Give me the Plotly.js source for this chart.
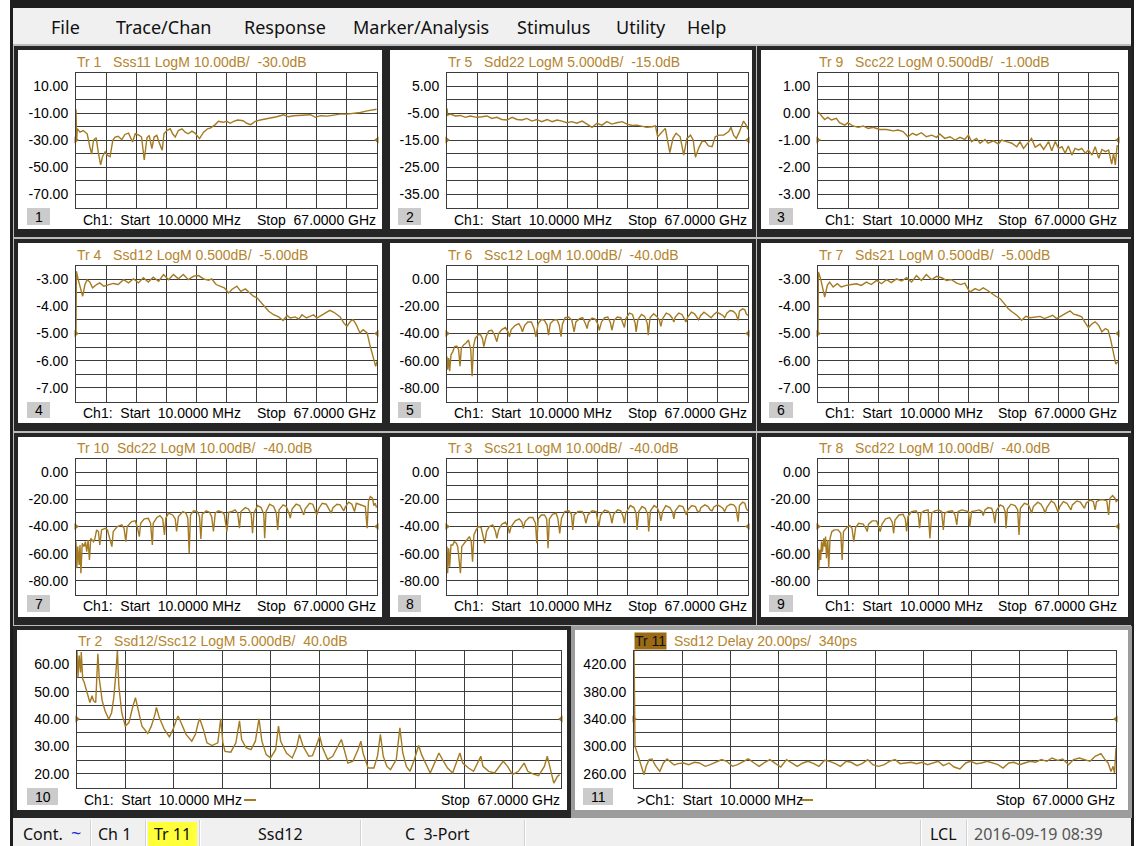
<!DOCTYPE html>
<html><head><meta charset="utf-8">
<script src="https://cdn.plot.ly/plotly-3.0.1.min.js"></script>
<style>html,body{margin:0;padding:0;background:#fff;overflow:hidden}#chart{width:1136px;height:846px}</style>
</head><body><div id="chart"></div>
<script>
// ---------------- DATA ----------------
const START_GHZ = 0.01, STOP_GHZ = 67;

// Tr 1  Sss11 LogM (dB)
const tr1_freq = [0.01,0.15,0.3,0.9,1.6,2.5,3.1,3.5,3.9,4.5,5.0,5.5,5.9,6.5,7.0,7.6,8.2,8.7,9.4,10.2,10.9,11.7,12.6,13.2,14.1,14.6,15.2,15.8,16.3,16.9,17.4,18.0,18.6,19.2,19.6,20.2,21.0,21.5,22.1,22.8,23.6,24.3,25.0,25.8,26.5,27.5,28.4,29.3,30.0,31.0,31.7,32.7,33.6,34.3,35.1,36.0,37.2,38.0,38.9,39.9,41.0,42.1,43.2,44.7,46.2,47.3,48.4,49.6,51.0,52.2,53.3,54.4,55.9,57.4,58.8,60.3,61.8,63.3,64.8,65.9,66.9];
const tr1_db = [-7.2,-30.2,-21.7,-24.2,-23.0,-25.4,-35.1,-40.4,-30.2,-28.3,-39.9,-48.4,-42.4,-38.7,-41.2,-42.4,-30.2,-27.8,-27.3,-29.8,-25.9,-24.9,-31.5,-25.4,-26.6,-27.8,-44.8,-28.3,-26.6,-36.3,-27.8,-26.6,-32.7,-37.5,-25.4,-23.0,-21.7,-25.4,-27.8,-23.0,-21.7,-24.2,-25.4,-23.4,-24.9,-29.0,-24.2,-21.7,-21.0,-18.6,-16.2,-16.9,-16.2,-17.6,-16.2,-15.2,-15.7,-17.6,-18.6,-16.2,-15.2,-14.5,-13.7,-12.8,-11.3,-12.8,-12.0,-11.8,-12.0,-11.3,-13.2,-12.0,-12.3,-11.3,-10.8,-10.8,-10.3,-9.6,-8.4,-7.7,-7.2];

// Tr 5  Sdd22 LogM (dB)
const tr5_freq = [0.01,0.15,0.7,1.9,3.0,4.1,5.2,6.7,7.8,8.9,10.0,11.1,12.2,13.4,14.5,15.6,16.7,17.8,18.9,20.0,21.1,22.3,23.4,24.5,25.6,26.7,27.8,28.9,30.1,31.2,32.3,33.4,34.5,35.6,36.7,37.8,39.0,40.1,41.2,42.3,43.4,44.5,45.6,46.4,46.9,47.9,48.6,49.6,50.3,51.0,51.9,52.7,53.4,54.2,54.8,55.3,56.0,56.8,57.5,58.2,59.0,59.7,60.5,61.6,62.7,63.2,63.8,64.4,65.1,66.0,66.6,67.0];
const tr5_db = [-3.3,-5.8,-5.4,-6.1,-5.9,-6.6,-6.1,-6.6,-6.4,-6.1,-7.0,-6.6,-7.4,-7.6,-6.6,-7.4,-7.6,-7.0,-8.0,-7.4,-8.2,-7.4,-8.2,-7.6,-8.0,-8.6,-8.2,-8.8,-8.0,-9.1,-10.3,-8.8,-9.5,-8.2,-9.1,-8.6,-8.2,-9.1,-9.6,-9.5,-9.8,-10.3,-10.1,-9.8,-13.8,-11.9,-10.7,-19.7,-14.4,-12.5,-13.8,-20.6,-14.4,-13.2,-15.0,-21.4,-18.1,-15.4,-15.6,-17.2,-17.5,-13.8,-13.2,-13.2,-11.9,-10.3,-13.2,-14.4,-11.9,-8.0,-9.5,-11.1];

// Tr 9  Scc22 LogM (dB)
const tr9_freq = [0.01,0.7,1.5,2.2,3.0,4.1,4.8,6.0,6.7,7.8,9.0,10.1,11.2,12.3,13.8,15.3,16.8,17.9,19.0,20.1,21.1,22.0,23.1,24.2,25.4,26.5,27.2,28.3,29.5,30.6,31.7,32.8,33.6,34.3,35.4,36.2,37.3,38.0,39.2,40.3,41.0,42.1,43.3,44.4,45.1,45.9,46.8,47.7,48.5,49.6,50.4,51.5,52.2,53.0,53.7,54.5,55.2,55.9,56.7,57.4,58.2,58.9,59.7,60.4,61.2,61.9,62.7,63.4,64.2,64.9,65.6,66.0,66.4,66.8,67.0];
const tr9_db = [0.05,-0.08,-0.24,-0.16,-0.26,-0.20,-0.36,-0.45,-0.36,-0.48,-0.53,-0.48,-0.57,-0.53,-0.61,-0.61,-0.66,-0.63,-0.69,-0.88,-0.75,-0.82,-0.73,-0.88,-0.82,-0.90,-0.78,-0.94,-0.88,-1.00,-0.90,-0.98,-0.82,-1.06,-0.94,-1.12,-0.98,-1.12,-1.03,-1.15,-1.00,-1.06,-1.12,-1.25,-1.06,-1.31,-1.12,-0.94,-1.27,-1.15,-1.35,-1.06,-1.40,-1.06,-1.31,-1.25,-1.49,-1.22,-1.56,-1.31,-1.37,-1.31,-1.49,-1.37,-1.56,-1.25,-1.68,-1.35,-1.43,-1.37,-1.89,-1.49,-1.92,-1.22,-1.22];

// Tr 4  Ssd12 LogM (dB)
const tr4_freq = [0.01,0.1,0.5,1.0,1.5,2.0,2.5,3.1,3.7,4.6,5.3,6.2,7.2,8.3,9.4,10.6,11.7,12.8,13.9,15.0,16.1,17.2,18.4,19.5,20.6,21.7,22.8,23.9,25.0,26.2,27.3,28.4,29.5,30.2,31.2,32.1,33.0,34.0,34.7,35.8,36.7,37.7,38.6,39.5,40.3,41.0,41.9,42.9,44.0,45.1,46.1,47.0,47.7,48.8,49.6,50.3,51.3,52.2,52.9,53.6,54.5,55.5,56.5,57.4,58.3,58.8,59.6,60.3,61.1,61.7,62.4,63.2,63.9,64.8,65.4,65.9,66.4,66.7,67.0];
const tr4_db = [-5.0,-2.71,-3.02,-3.38,-3.63,-3.20,-3.02,-3.11,-3.32,-3.20,-3.14,-3.26,-3.20,-3.16,-3.20,-3.02,-3.14,-2.99,-3.14,-2.95,-3.11,-2.93,-3.08,-2.83,-3.02,-2.83,-2.99,-2.83,-3.02,-2.89,-2.87,-2.99,-3.04,-2.99,-3.20,-3.26,-3.32,-3.51,-3.38,-3.26,-3.45,-3.36,-3.48,-3.63,-3.69,-3.82,-4.00,-4.18,-4.31,-4.39,-4.52,-4.34,-4.43,-4.39,-4.47,-4.31,-4.43,-4.37,-4.31,-4.43,-4.34,-4.25,-4.15,-4.22,-4.31,-4.39,-4.61,-4.74,-4.55,-4.49,-4.68,-4.98,-4.86,-4.98,-5.41,-5.72,-6.09,-6.21,-6.03];

// Tr 6  Ssc12 LogM (dB)
const tr6_freq = [0.01,0.15,0.4,0.6,0.9,1.3,1.7,2.2,2.6,2.9,3.2,3.7,4.2,4.8,5.3,5.6,5.9,6.3,6.9,7.4,7.9,8.2,8.7,9.3,10.0,10.6,11.1,11.5,12.2,13.0,13.6,13.9,14.3,15.2,16.0,16.5,16.8,17.3,18.0,18.8,19.4,19.8,20.3,21.0,21.7,22.3,22.6,23.0,23.7,24.5,25.0,25.4,25.7,26.3,27.1,27.8,28.3,28.7,29.5,30.2,30.8,31.2,31.5,32.3,33.0,33.6,33.9,34.4,35.1,35.8,36.4,36.7,37.2,37.9,38.7,39.1,39.5,39.8,40.6,41.3,41.9,42.1,42.5,43.3,44.0,44.6,44.8,45.2,46.0,46.7,47.3,47.6,48.0,48.8,49.5,50.1,50.5,50.8,51.6,52.3,52.8,53.2,53.6,54.4,55.1,55.7,56.0,56.5,57.2,57.9,58.4,58.8,59.4,60.1,60.8,61.4,61.8,62.3,63.0,63.7,64.3,64.8,65.1,65.8,66.3,66.6,67.0];
const tr6_db = [-56.9,-66.6,-58.1,-67.8,-55.7,-53.3,-49.7,-49.2,-52.1,-64.1,-50.9,-48.4,-47.2,-44.8,-52.1,-71.4,-49.7,-43.6,-41.2,-40.5,-43.6,-49.7,-42.4,-38.1,-37.6,-41.2,-46.0,-40.0,-37.1,-35.6,-38.8,-42.4,-37.1,-34.0,-32.7,-35.6,-38.8,-34.0,-31.5,-31.5,-36.4,-42.4,-32.7,-29.8,-30.3,-34.0,-41.2,-32.7,-30.3,-29.8,-34.0,-42.4,-33.2,-28.4,-27.9,-30.3,-38.8,-31.5,-29.1,-28.4,-32.7,-36.4,-31.5,-28.6,-29.4,-33.2,-37.6,-31.5,-28.4,-27.9,-32.3,-37.6,-30.3,-27.9,-28.4,-32.3,-35.6,-29.1,-25.0,-26.0,-32.7,-38.8,-29.8,-26.0,-27.4,-32.7,-41.2,-28.4,-25.5,-27.4,-30.3,-34.7,-29.1,-25.0,-26.0,-28.4,-31.5,-27.9,-25.0,-26.0,-29.8,-31.5,-27.9,-24.3,-25.5,-28.4,-29.8,-26.7,-24.3,-26.0,-27.4,-28.4,-26.0,-24.3,-25.5,-26.7,-28.4,-25.0,-23.1,-23.6,-25.5,-30.3,-23.6,-21.9,-22.6,-25.5,-26.7];

// Tr 7  Sds21 LogM (dB)
const tr7_freq = [0.01,0.1,0.6,1.1,1.5,2.1,2.6,3.4,4.3,5.2,6.3,7.5,8.6,9.7,10.8,11.9,13.1,14.2,15.3,16.4,17.5,18.7,19.8,20.9,22.0,23.1,24.2,25.4,26.5,27.6,28.7,29.8,31.0,31.9,32.8,33.9,35.1,36.0,36.9,37.9,38.8,39.7,40.7,41.6,42.5,43.4,44.4,45.5,46.4,47.4,48.5,49.6,50.6,51.5,52.4,53.3,54.3,55.2,56.3,57.1,58.0,58.9,59.7,60.4,61.2,61.9,62.7,63.4,64.2,64.8,65.4,66.0,66.5,67.0];
const tr7_db = [-5.0,-2.74,-2.99,-3.42,-3.66,-3.23,-3.11,-3.29,-3.17,-3.29,-3.23,-3.20,-3.17,-3.23,-3.11,-3.20,-3.05,-3.17,-3.02,-3.13,-2.99,-3.07,-2.95,-3.11,-2.87,-3.05,-2.83,-3.02,-2.90,-2.95,-3.05,-3.02,-3.15,-3.20,-3.15,-3.48,-3.35,-3.42,-3.32,-3.42,-3.54,-3.63,-3.72,-3.90,-4.09,-4.21,-4.33,-4.51,-4.37,-4.42,-4.39,-4.37,-4.45,-4.39,-4.33,-4.45,-4.37,-4.27,-4.17,-4.29,-4.33,-4.39,-4.61,-4.78,-4.64,-4.57,-4.70,-4.94,-4.82,-4.88,-5.25,-5.73,-6.12,-6.04];

// Tr 10 Sdc22 LogM (dB)
const tr10_freq = [0.01,0.2,0.4,0.7,0.9,1.1,1.4,1.8,2.1,2.4,2.7,3.0,3.3,3.9,4.2,4.6,5.0,5.3,5.7,6.5,7.0,8.0,8.3,9.2,10.2,10.7,11.1,11.4,12.4,13.2,13.7,14.1,14.4,15.2,16.1,16.6,17.0,17.2,18.0,18.7,19.3,19.7,20.0,20.6,21.5,22.1,22.4,22.8,23.8,24.5,24.9,25.2,25.5,26.2,27.0,27.5,27.8,28.1,29.0,29.7,30.2,30.6,31.0,31.7,32.5,33.0,33.6,34.0,34.7,35.4,36.0,36.4,36.7,37.7,38.4,39.0,39.3,39.6,40.4,41.2,41.8,42.0,42.3,43.1,44.0,44.6,44.9,45.2,46.1,46.8,47.4,47.7,48.1,49.0,49.8,50.3,50.7,51.0,52.0,52.7,53.3,53.6,54.0,54.8,55.7,56.2,56.8,57.2,58.1,58.8,59.6,60.0,60.7,61.4,62.0,62.4,63.3,64.4,64.8,65.1,65.5,66.0,66.3,66.6,66.9];
const tr10_db = [-51.1,-70.7,-54.8,-68.3,-53.6,-74.4,-52.3,-54.8,-51.1,-58.5,-49.9,-64.6,-48.7,-51.1,-49.1,-42.5,-43.7,-53.6,-42.5,-41.3,-42.5,-54.8,-43.7,-40.1,-38.8,-41.3,-51.1,-40.1,-36.4,-35.9,-40.8,-47.4,-37.6,-34.4,-33.9,-37.6,-53.6,-37.6,-33.4,-32.0,-34.4,-46.2,-33.9,-30.2,-31.5,-34.4,-43.7,-32.7,-29.0,-30.2,-33.9,-59.7,-31.5,-28.5,-29.0,-32.7,-49.1,-31.0,-28.5,-29.5,-32.7,-43.7,-30.2,-28.5,-29.5,-31.0,-43.7,-29.5,-29.0,-27.8,-30.2,-41.3,-29.0,-26.1,-27.1,-31.0,-45.0,-30.2,-24.6,-26.1,-31.0,-48.7,-29.0,-23.6,-25.3,-30.2,-42.5,-27.8,-24.1,-25.3,-30.2,-33.9,-27.1,-23.6,-24.6,-29.0,-31.5,-27.1,-22.9,-23.6,-28.5,-31.5,-27.1,-22.9,-23.6,-27.1,-30.2,-26.1,-23.6,-24.1,-28.5,-25.3,-22.1,-23.6,-29.0,-22.9,-24.1,-25.3,-41.3,-21.7,-18.0,-19.2,-24.6,-22.9,-26.1];

// Tr 3  Scs21 LogM (dB)
const tr3_freq = [0.01,0.15,0.4,0.6,0.9,1.3,1.6,2.1,2.4,2.7,3.0,3.3,3.8,4.4,5.0,5.4,5.7,6.0,6.5,7.0,7.6,8.1,8.4,8.8,9.4,10.2,10.8,11.1,11.5,12.2,13.0,13.6,13.9,14.3,15.2,16.1,16.7,17.0,17.4,18.3,19.1,19.7,20.0,20.3,21.0,21.7,22.2,22.5,22.8,23.5,24.3,24.7,25.1,25.5,26.2,27.1,27.7,28.0,28.3,29.2,30.1,30.6,30.9,31.4,32.3,33.2,33.5,33.8,34.2,35.1,36.0,36.4,36.7,37.1,38.0,38.7,39.2,39.5,39.8,40.8,41.6,42.1,42.3,42.7,43.4,44.1,44.7,44.9,45.3,46.1,46.8,47.3,47.6,48.0,48.7,49.6,50.2,50.5,50.8,51.7,52.5,52.9,53.3,53.6,54.5,55.3,55.7,56.2,56.5,57.4,58.1,58.6,59.0,59.4,60.2,60.9,61.4,61.8,62.3,63.1,63.8,64.3,64.8,65.1,65.8,66.3,66.6,67.0];
const tr3_db = [-54.8,-74.4,-56.0,-69.5,-53.6,-53.6,-51.1,-52.3,-54.8,-68.3,-74.4,-54.8,-52.3,-49.9,-47.4,-51.1,-65.8,-46.2,-42.5,-40.1,-40.8,-48.7,-52.3,-43.7,-40.1,-38.8,-43.7,-48.7,-42.5,-38.3,-36.9,-40.1,-45.0,-40.1,-35.9,-34.4,-36.9,-41.3,-36.4,-33.4,-33.4,-37.6,-52.3,-34.4,-31.5,-31.5,-34.4,-56.0,-34.4,-31.0,-30.2,-34.4,-45.0,-33.9,-29.0,-28.5,-31.0,-42.5,-31.5,-29.0,-29.0,-32.0,-37.6,-31.5,-28.5,-29.0,-33.4,-40.1,-31.5,-28.0,-29.0,-32.0,-37.6,-31.0,-27.8,-28.5,-32.7,-37.6,-30.2,-24.6,-26.1,-30.2,-42.5,-29.0,-25.3,-26.6,-31.0,-43.7,-28.5,-24.6,-26.1,-30.2,-35.9,-29.0,-24.6,-26.1,-29.5,-34.4,-28.5,-24.6,-25.3,-29.0,-31.5,-27.8,-24.6,-25.3,-28.5,-29.5,-26.1,-24.1,-25.3,-27.8,-28.5,-25.6,-24.1,-25.3,-26.6,-29.0,-25.3,-23.6,-24.1,-26.1,-36.4,-24.6,-22.1,-22.9,-26.6,-28.5];

// Tr 8  Scd22 LogM (dB)
const tr8_freq = [0.01,0.15,0.4,0.6,0.8,1.0,1.3,1.5,1.7,1.9,2.2,2.4,2.7,3.1,3.7,4.5,5.1,5.4,5.7,6.3,7.1,7.6,8.0,8.4,9.1,10.1,10.7,11.0,11.3,12.1,13.1,13.6,13.9,14.3,15.1,16.0,16.6,16.9,17.2,18.1,19.0,19.5,19.8,20.1,20.9,21.9,22.4,22.7,23.0,23.7,24.6,25.0,25.4,26.1,27.0,27.6,28.0,28.3,29.1,30.0,30.6,31.0,31.3,32.1,33.0,33.6,33.9,34.3,35.1,36.0,36.6,36.9,37.3,38.0,38.8,39.2,39.5,39.8,40.7,41.4,41.8,42.0,42.3,43.1,44.0,44.6,44.9,45.2,46.1,47.0,47.4,47.7,48.1,49.1,49.8,50.4,50.7,51.1,52.1,52.8,53.3,53.6,54.0,54.8,55.6,56.1,56.5,56.8,57.8,58.6,59.1,59.5,59.9,60.8,61.5,61.9,62.2,63.0,63.8,64.5,64.9,65.2,65.8,66.3,66.6,67.0];
const tr8_db = [-56.0,-72.0,-57.2,-64.6,-51.1,-58.5,-48.7,-54.8,-47.4,-63.4,-49.9,-70.7,-48.7,-43.7,-42.5,-42.5,-45.0,-64.6,-43.7,-41.3,-39.3,-41.3,-51.1,-40.8,-37.6,-38.3,-41.3,-43.7,-38.3,-35.9,-35.9,-40.1,-43.7,-38.3,-34.4,-33.4,-36.9,-45.0,-35.2,-31.5,-31.0,-34.4,-43.7,-32.7,-29.0,-28.5,-31.0,-41.3,-30.2,-28.5,-27.8,-48.7,-30.2,-28.5,-27.8,-29.0,-42.5,-30.2,-29.0,-28.5,-31.5,-38.8,-29.0,-27.8,-28.5,-29.0,-40.1,-29.0,-28.5,-27.8,-29.0,-32.0,-27.8,-26.1,-26.6,-31.0,-37.6,-28.5,-24.1,-25.3,-29.0,-41.3,-27.1,-23.6,-24.6,-27.8,-46.2,-26.6,-22.9,-24.1,-27.1,-30.2,-25.3,-22.1,-23.6,-27.1,-30.2,-26.1,-21.2,-22.9,-26.6,-29.5,-25.3,-21.7,-22.9,-26.1,-27.8,-24.1,-21.2,-22.1,-24.6,-26.6,-22.9,-20.4,-21.7,-27.8,-21.7,-20.4,-20.4,-21.2,-31.5,-19.2,-17.2,-19.2,-21.7,-20.4];

// Tr 2  Ssd12/Ssc12 LogM (dB)
const tr2_freq = [0.01,0.15,0.3,0.5,0.6,0.8,1.0,1.3,1.5,1.8,2.1,2.3,2.6,2.8,2.9,3.1,3.5,3.9,4.4,4.8,5.1,5.4,5.6,5.8,6.2,6.7,7.2,7.7,8.1,8.3,9.0,9.8,10.3,10.8,11.0,11.4,12.1,12.8,13.3,13.8,14.0,14.4,15.1,15.9,16.4,16.8,17.0,17.5,18.0,18.7,19.5,19.9,20.2,20.5,21.3,22.0,22.5,22.8,23.4,24.1,24.7,25.2,25.6,26.2,26.8,27.5,27.9,28.2,29.0,29.8,30.4,30.8,31.3,32.1,32.6,33.1,33.6,34.0,34.7,35.4,36.0,36.6,37.0,37.5,38.2,38.9,39.3,39.6,40.3,41.1,41.6,42.0,42.4,42.9,43.4,44.2,44.7,45.1,45.6,46.1,46.7,47.3,47.7,48.3,48.9,49.5,50.1,50.6,51.3,52.0,52.6,53.0,53.4,54.2,54.9,55.5,55.9,56.2,57.0,57.8,58.5,59.0,59.6,60.3,61.1,61.9,62.4,63.1,63.9,64.7,65.1,65.4,66.0,66.5,66.8];
const tr2_db = [65.0,55.2,63.2,57.0,64.4,54.6,53.4,50.9,49.1,46.0,48.5,46.6,46.0,59.5,63.8,54.6,46.6,42.9,39.9,42.3,47.8,57.0,65.0,52.1,42.3,37.4,38.7,44.2,47.8,45.4,37.4,34.7,37.4,41.7,44.2,40.5,36.2,33.5,36.2,39.9,41.1,38.7,34.4,31.9,34.4,38.7,40.1,36.2,31.3,30.3,31.3,40.1,31.3,28.2,27.9,31.3,39.3,32.5,29.5,28.8,31.9,40.1,31.9,27.0,25.8,28.8,37.4,31.9,27.6,25.8,29.5,34.4,30.1,26.4,26.6,30.1,33.7,29.5,25.2,26.4,29.5,32.5,28.8,23.9,24.6,28.8,31.9,27.6,22.1,22.1,26.4,34.4,26.4,22.7,21.5,25.2,36.8,27.6,22.7,20.9,25.2,30.3,27.0,23.9,20.3,23.9,27.6,25.2,22.1,20.3,25.2,27.6,23.9,22.1,20.9,23.9,26.4,22.7,20.9,20.3,22.7,24.6,22.7,19.7,20.9,23.9,20.9,20.0,19.3,22.7,26.4,22.7,16.6,19.0,19.7];

// Tr 11 Ssd12 Delay (ps)
const tr11_freq = [0.01,0.15,0.6,1.0,1.4,1.7,2.1,2.5,3.0,3.6,4.1,4.6,5.1,5.6,6.1,6.9,7.6,8.4,9.1,9.9,10.6,11.4,12.2,12.9,13.7,14.4,15.2,15.9,16.7,17.4,18.2,18.9,19.7,20.4,21.2,21.9,22.7,23.5,24.2,25.0,25.7,26.5,27.2,28.0,28.7,29.5,30.2,31.0,31.7,32.5,33.2,34.0,34.8,35.5,36.3,37.0,37.8,38.5,39.3,40.0,40.8,41.5,42.3,43.0,43.8,44.5,45.3,46.1,46.8,47.6,48.3,49.1,49.8,50.6,51.3,52.1,52.8,53.6,54.3,55.1,55.8,56.6,57.4,58.1,58.9,59.6,60.4,61.1,61.9,62.6,63.4,64.1,64.9,65.4,65.9,66.3,66.6,66.8,67.0];
const tr11_ps = [450,300.3,285.6,270.9,258.6,270.9,280.7,281.7,271.9,263.5,275.8,281.7,276.8,272.8,274.8,275.8,273.3,276.8,275.8,270.9,273.3,276.8,280.7,278.2,270.9,273.3,278.2,281.7,275.8,270.9,276.8,280.7,274.8,269.9,280.7,275.8,270.9,275.8,278.2,274.8,270.9,279.7,278.2,274.8,270.9,278.2,276.8,271.9,274.8,280.7,273.3,270.9,273.3,278.2,280.7,274.8,275.8,276.8,274.8,276.8,273.3,275.8,278.2,271.9,275.8,269.9,267.0,275.8,278.2,274.8,275.8,278.2,275.8,273.3,268.4,275.8,276.8,273.3,275.8,278.2,276.8,280.7,278.2,283.1,279.7,281.7,273.3,280.7,283.1,280.7,278.2,285.6,289.5,281.7,275.8,263.5,270.9,261.1,297.8];

// scale settings (reference value, per-division)
const refLevels = [-30, -15, -1, -5, -40, -5, -40, -40, -40, 40, 340];
const perDiv    = [10, 5, 0.5, 0.5, 10, 0.5, 10, 10, 10, 5, 20];
const trTitles = [
  'Tr 1\u00a0\u00a0\u00a0Sss11 LogM 10.00dB/\u00a0\u00a0-30.0dB',
  'Tr 5\u00a0\u00a0\u00a0Sdd22 LogM 5.000dB/\u00a0\u00a0-15.0dB',
  'Tr 9\u00a0\u00a0\u00a0Scc22 LogM 0.500dB/\u00a0\u00a0-1.00dB',
  'Tr 4\u00a0\u00a0\u00a0Ssd12 LogM 0.500dB/\u00a0\u00a0-5.00dB',
  'Tr 6\u00a0\u00a0\u00a0Ssc12 LogM 10.00dB/\u00a0\u00a0-40.0dB',
  'Tr 7\u00a0\u00a0\u00a0Sds21 LogM 0.500dB/\u00a0\u00a0-5.00dB',
  'Tr 10\u00a0\u00a0Sdc22 LogM 10.00dB/\u00a0\u00a0-40.0dB',
  'Tr 3\u00a0\u00a0\u00a0Scs21 LogM 10.00dB/\u00a0\u00a0-40.0dB',
  'Tr 8\u00a0\u00a0\u00a0Scd22 LogM 10.00dB/\u00a0\u00a0-40.0dB',
  'Tr 2\u00a0\u00a0\u00a0Ssd12/Ssc12 LogM 5.000dB/\u00a0\u00a040.0dB',
  'Ssd12 Delay 20.00ps/\u00a0\u00a0340ps'
];
const windowNumbers = ['1','2','3','4','5','6','7','8','9','10','11'];
const menuItems = ['File','Trace/Chan','Response','Marker/Analysis','Stimulus','Utility','Help'];

// ---------------- LAYOUT GEOMETRY (pixels) ----------------
const W = 1136, H = 846;
const TRACE_C = '#a47a22', TITLE_C = '#b5842e';
const FONT = '"Liberation Sans", Arial, sans-serif';
const UIFONT = '"Noto Sans", "Open Sans", sans-serif';

const seriesX = [tr1_freq, tr5_freq, tr9_freq, tr4_freq, tr6_freq, tr7_freq, tr10_freq, tr3_freq, tr8_freq, tr2_freq, tr11_freq];
const seriesY = [tr1_db, tr5_db, tr9_db, tr4_db, tr6_db, tr7_db, tr10_db, tr3_db, tr8_db, tr2_db, tr11_ps];

const colX = [[76,377],[447,748],[818,1118]];
const rowY = [[72.5,207.5],[265.5,401.5],[458.5,594.5]];
const colWhite = [[18,382],[390,752],[761,1128]];
const rowWhite = [[50,229],[243,423],[437,617]];
const rowTitleY = [62,255,448], rowFootY = [220,413,606], rowBoxY = [[208,225],[402,418],[595,612]];
const colBox = [[27,50],[398,421],[769,793]];

const geo = [];
for (let r=0;r<3;r++) for (let c=0;c<3;c++) geo.push({
  plot:[colX[c][0],colX[c][1],rowY[r][0],rowY[r][1]],
  white:[colWhite[c][0],colWhite[c][1],rowWhite[r][0],rowWhite[r][1]],
  titleY:rowTitleY[r], footY:rowFootY[r], box:[colBox[c][0],colBox[c][1],rowBoxY[r][0],rowBoxY[r][1]], frame:'#262626'
});
geo.push({plot:[77,561,650.5,787.5], white:[17,567,630,810], titleY:641, footY:800, box:[27,58,788,805], frame:'#262626', dash:244, gt:''});
geo.push({plot:[634,1116,650.5,787.5], white:[575,1128,630,810], titleY:641, footY:800, box:[583,613,788,805], frame:'#9c9c9c', dash:801, gt:'>'});

const px = x => x/W, py = y => 1 - y/H;
const shapes = [], annotations = [];
function rect(x0,y0,x1,y1,fill,line,lw){
  shapes.push({type:'rect',xref:'paper',yref:'paper',x0:px(x0),x1:px(x1),y0:py(y1),y1:py(y0),
    fillcolor:fill,line:{width:lw||0,color:line||fill},layer:'below'});
}
function txt(x,y,text,o){
  o=o||{};
  annotations.push({xref:'paper',yref:'paper',x:px(x),y:py(y),text:text,showarrow:false,
    xanchor:o.xa||'left',yanchor:'middle',borderpad:0,
    bgcolor:o.bg||'rgba(0,0,0,0)',
    font:{family:o.family||FONT,size:o.size||14,color:o.color||'#000'}});
}

// window chrome
rect(10,0,1134,846,'#1e1e1e');
rect(13,8,1131,44,'#f0f0f0');
rect(13,44,1131,818,'#bcbcbc');
rect(13,818,1131,846,'#f0f0f0');

const menuX = [50,115,243,352,516,615,686];
menuItems.forEach((m,i)=>txt(menuX[i],27,m,{family:UIFONT,size:18,color:'#111'}));

// ---------------- PANELS ----------------
const traces = [];
const layout = {
  width:W, height:H, margin:{l:0,r:0,t:0,b:0},
  paper_bgcolor:'#ffffff', plot_bgcolor:'#ffffff', showlegend:false,
  shapes:shapes, annotations:annotations
};

geo.forEach((g,i)=>{
  const n = i+1, xs = n===1?'':String(n);
  const w = g.white;
  rect(w[0]-4,w[2]-4,w[1]+4,w[3]+8,g.frame);
  rect(w[0],w[2],w[1],w[3],'#ffffff');

  const ref = refLevels[i], pd = perDiv[i];
  const lo = ref-5*pd, hi = ref+5*pd;
  const yv=[], yt=[];
  for(let k=0;k<=10;k++){ const v=lo+k*pd; yv.push(v); yt.push(k%2===1 ? v.toFixed(2) : ''); }
  const xv=[]; for(let k=0;k<=10;k++) xv.push(START_GHZ + k*(STOP_GHZ-START_GHZ)/10);

  layout['xaxis'+xs] = {domain:[px(g.plot[0]),px(g.plot[1])], range:[START_GHZ,STOP_GHZ], anchor:'y'+xs,
    tickmode:'array', tickvals:xv, showticklabels:false, ticks:'', showgrid:true, gridcolor:'#3c3c3c', gridwidth:1,
    zeroline:false, showline:true, linecolor:'#3c3c3c', linewidth:1, mirror:true, fixedrange:true};
  layout['yaxis'+xs] = {domain:[py(g.plot[3]),py(g.plot[2])], range:[lo,hi], anchor:'x'+xs,
    tickmode:'array', tickvals:yv, ticktext:yt, ticks:'', ticklabelstandoff:4,
    tickfont:{family:FONT,size:14,color:'#000'},
    showgrid:true, gridcolor:'#3c3c3c', gridwidth:1, zeroline:false, showline:true, linecolor:'#3c3c3c', linewidth:1, mirror:true, fixedrange:true};

  traces.push({type:'scatter',mode:'lines',x:seriesX[i],y:seriesY[i],xaxis:'x'+xs,yaxis:'y'+xs,
    line:{color:TRACE_C,width:1.4},hoverinfo:'skip'});
  traces.push({type:'scatter',mode:'markers',x:[START_GHZ,STOP_GHZ],y:[ref,ref],xaxis:'x'+xs,yaxis:'y'+xs,
    cliponaxis:false, marker:{symbol:['triangle-right','triangle-left'],size:6,color:TRACE_C},hoverinfo:'skip'});

  // title
  if (n===11){
    txt(g.plot[0],g.titleY,'Tr 11',{bg:'#9a6a14',color:'#111'});
    txt(g.plot[0]+39,g.titleY,trTitles[i],{color:TITLE_C});
  } else {
    txt(g.plot[0],g.titleY,trTitles[i],{color:TITLE_C});
  }
  // footer
  txt(g.plot[0]+(g.gt?2:6),g.footY,(g.gt||'')+'Ch1:\u00a0\u00a0Start\u00a0\u00a010.0000 MHz');
  txt(g.plot[1],g.footY,'Stop\u00a0\u00a067.0000 GHz',{xa:'right'});
  if (g.dash){ shapes.push({type:'line',xref:'paper',yref:'paper',x0:px(g.dash),x1:px(g.dash+12),y0:py(g.footY),y1:py(g.footY),line:{color:TRACE_C,width:2}}); }
  // window number box
  const b = g.box;
  rect(b[0],b[2],b[1],b[3],'#cbcbcb');
  txt((b[0]+b[1])/2,(b[2]+b[3])/2,windowNumbers[i],{xa:'center'});
});

// ---------------- STATUS BAR ----------------
const sepX = [90,145,199,360,524,920,966];
sepX.forEach(x=>{ rect(x,820,x+1,846,'#d2d2d2'); rect(x+1,820,x+2,846,'#ffffff'); });
rect(148,822,197,846,'#ffff3a');
const SB = {family:UIFONT,size:16,color:'#111'};
txt(22,834,'Cont.',SB);
txt(70,833,'~',{family:UIFONT,size:18,color:'#1530e0'});
txt(97,834,'Ch 1',SB);
txt(172,834,'Tr 11',Object.assign({},SB,{xa:'center'}));
txt(280,834,'Ssd12',Object.assign({},SB,{xa:'center'}));
txt(437,834,'C\u00a0\u00a03-Port',Object.assign({},SB,{xa:'center'}));
txt(943,834,'LCL',Object.assign({},SB,{xa:'center'}));
txt(973,834,'2016-09-19 08:39',Object.assign({},SB,{color:'#555'}));

Plotly.newPlot('chart', traces, layout, {staticPlot:true});
</script>
</body></html>
